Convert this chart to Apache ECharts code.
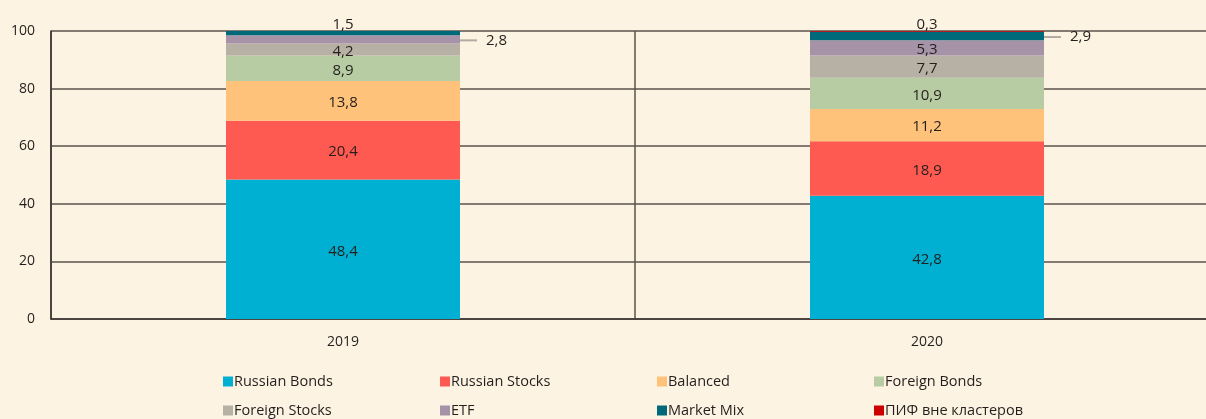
<!DOCTYPE html>
<html>
<head>
<meta charset="utf-8">
<script src="https://cdn.jsdelivr.net/npm/echarts@6/dist/echarts.min.js"></script>
<style>
html,body{margin:0;padding:0;background:#fdf3e3;}
#chart{width:1206px;height:419px;}
</style>
</head>
<body>
<div id="chart"></div>
<script>
// данные
var years = ['2019', '2020'];
var names = ['Russian Bonds', 'Russian Stocks', 'Balanced', 'Foreign Bonds', 'Foreign Stocks', 'ETF', 'Market Mix', 'ПИФ вне кластеров'];
var colors = ['#00b0d2', '#ff5a52', '#ffc27a', '#b8cca4', '#b7b0a5', '#a693a8', '#006a7b', '#cc0000'];
var russianBonds = [48.4, 42.8];
var russianStocks = [20.4, 18.9];
var balanced = [13.8, 11.2];
var foreignBonds = [8.9, 10.9];
var foreignStocks = [4.2, 7.7];
var etf = [2.8, 5.3];
var marketMix = [1.5, 2.9];
var pifOther = [0, 0.3];
var yTicks = [0, 20, 40, 60, 80, 100];

var values = [russianBonds, russianStocks, balanced, foreignBonds, foreignStocks, etf, marketMix, pifOther];

function fmt(v){
	return String(v).replace('.', ',');
}

// метки, вынесенные за пределы столбца
var topLabel = {show: true, position: 'top', distance: 0, offset: [0, 1], formatter: function(p){ return fmt(p.value); }};
var sideLabel = {
	show: true, position: 'right', distance: 0, offset: [0, 1],
	formatter: function(p){ return '{l|}{v|' + fmt(p.value) + '}'; },
	rich: {
		l: {width: 17, height: 2, backgroundColor: '#b0aaa2'},
		v: {fontSize: 15, color: '#231f1c', padding: [0, 0, 0, 9]}
	}
};

var series = [];
for (var i = 0; i < names.length; i++) {
	var data = [];
	for (var j = 0; j < years.length; j++) {
		var item = {value: values[i][j]};
		if ((i == 6 && j == 0) || (i == 7 && j == 1)) item.label = topLabel;
		if ((i == 5 && j == 0) || (i == 6 && j == 1)) item.label = sideLabel;
		if (i == 7 && j == 0) item.label = {show: false};
		data.push(item);
	}
	series.push({
		name: names[i],
		type: 'bar',
		stack: 'total',
		barWidth: 234,
		itemStyle: {color: colors[i]},
		label: {
			show: true,
			position: 'inside',
			offset: [0, 2],
			color: '#231f1c',
			fontSize: 15,
			fontFamily: 'Open Sans',
			formatter: function(p){ return fmt(p.value); }
		},
		data: data
	});
}

var legends = [];
for (var k = 0; k < names.length; k++) {
	legends.push({
		data: [names[k]],
		left: 218 + (k % 4) * 217,
		top: k < 4 ? 369 : 398,
		itemWidth: 10,
		itemHeight: 10,
		itemGap: 2,
		icon: 'rect',
		textStyle: {fontSize: 14.5, color: '#231f1c', fontFamily: 'Open Sans', padding: [0, 0, 0, -4]}
	});
}

var chart = echarts.init(document.getElementById('chart'));
chart.setOption({
	backgroundColor: '#fdf3e3',
	animation: false,
	textStyle: {fontFamily: 'Open Sans'},
	legend: legends,
	grid: {left: 51, top: 31, width: 1168, height: 288, outerBoundsMode: 'none', containLabel: false},
	xAxis: {
		type: 'category',
		data: years,
		axisLine: {lineStyle: {color: '#3a3330', width: 1.5}},
		axisTick: {show: false},
		axisLabel: {fontSize: 14, color: '#231f1c', margin: 16},
		splitLine: {show: true, lineStyle: {color: '#5a524c', width: 1.5}}
	},
	yAxis: {
		type: 'value',
		min: yTicks[0],
		max: yTicks[yTicks.length - 1],
		interval: 20,
		axisLine: {show: true, lineStyle: {color: '#3a3330', width: 1.5}},
		axisTick: {show: false},
		axisLabel: {fontSize: 14, color: '#231f1c', margin: 16},
		splitLine: {lineStyle: {color: '#5a524c', width: 1.5}}
	},
	series: series
});
</script>
</body>
</html>
